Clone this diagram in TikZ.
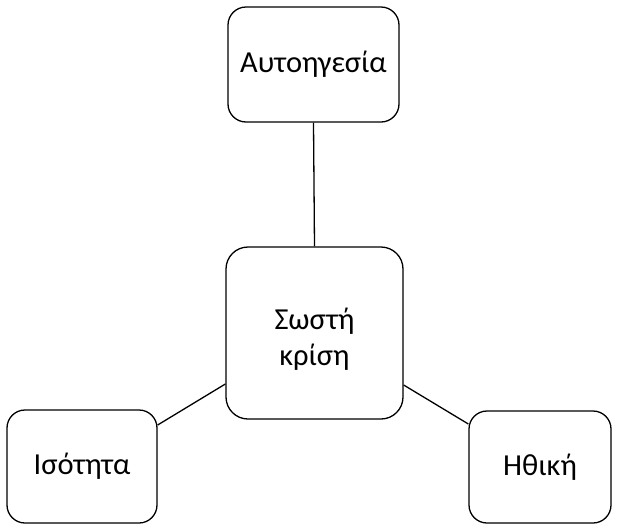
\documentclass[tikz,border=0pt]{standalone}
\usepackage{fontspec}
\setmainfont{Carlito}
\begin{document}
\begin{tikzpicture}[x=1pt,y=-1pt,
  box/.style={draw=black, line width=1.3pt, rounded corners=18pt, fill=white, font=\fontsize{30.5}{36}\selectfont, align=center},
  lbl/.style={font=\fontsize{30.5}{36}\selectfont, align=center},
  link/.style={draw=black, line width=1.3pt}]
\useasboundingbox (0,0) rectangle (619,528);
\node[box, minimum width=171pt, minimum height=115pt] (top) at (313.5,64.5) {Αυτοηγεσία};
\node[box, minimum width=177pt, minimum height=172pt, rounded corners=22pt] (mid) at (314.5,333) {};
\node[lbl] (midtext) at (314.5,339) {Σωστή\\κρίση};
\node[box, minimum width=150pt, minimum height=113pt] (left) at (82,466.5) {Ισότητα};
\node[box, minimum width=142pt, minimum height=112pt] (right) at (540,467) {Ηθική};
\draw[link] (top.south) -- (mid.north);
\draw[link] (left.east |- 0,425) -- (mid.west |- 0,384);
\draw[link] (mid.east |- 0,385) -- (right.west |- 0,424);
\end{tikzpicture}
\end{document}
